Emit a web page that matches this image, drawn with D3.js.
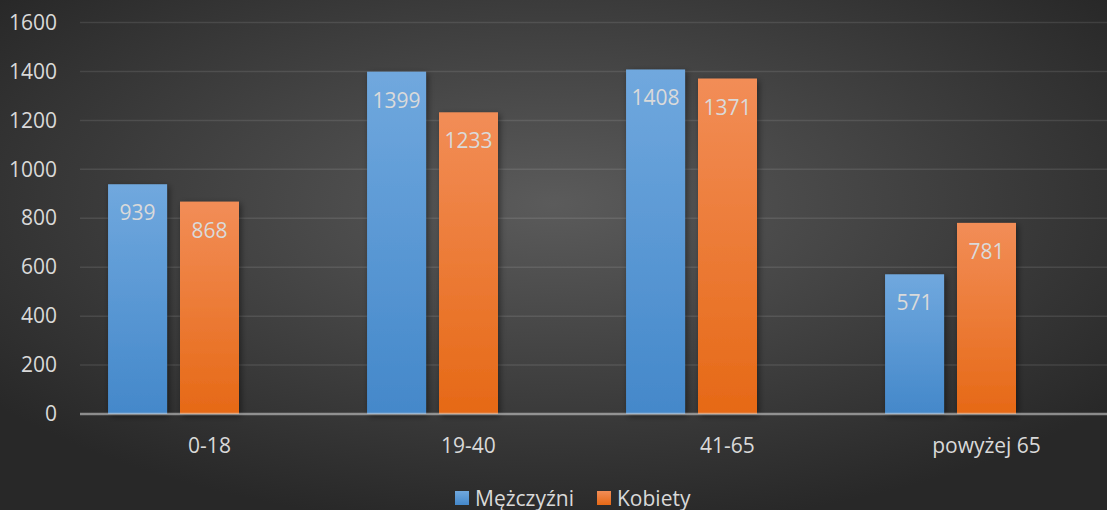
<!DOCTYPE html>
<html lang="pl">
<head>
  <meta charset="UTF-8">
  <title>Mężczyźni i kobiety wg wieku</title>
  <script src="https://d3js.org/d3.v7.min.js"></script>
  <style>
    html, body {
      margin: 0;
      padding: 0;
      background: #333;
    }
    svg {
      display: block;
      font-family: "Open Sans", Lato, sans-serif;
    }
  </style>
</head>
<body>
  <svg id="chart"></svg>
  <script>
    // data
    const categories = ["0-18", "19-40", "41-65", "powyżej 65"];
    const seriesNames = ["Mężczyźni", "Kobiety"];
    const men = [939, 1399, 1408, 571];
    const women = [868, 1233, 1371, 781];
    const yTicks = [0, 200, 400, 600, 800, 1000, 1200, 1400, 1600];

    const width = 1107, height = 510;
    const plot = { left: 80, right: 1116, top: 22.5, bottom: 414 };
    const fontSize = "21px";

    const svg = d3.select("#chart")
      .attr("width", width)
      .attr("height", height);

    const defs = svg.append("defs");

    const bg = defs.append("radialGradient")
      .attr("id", "bg")
      .attr("cx", "50%").attr("cy", "40%").attr("r", "64%");
    bg.append("stop").attr("offset", "0%").attr("stop-color", "#5b5b5b");
    bg.append("stop").attr("offset", "100%").attr("stop-color", "#282828");

    const fills = [
      { id: "gBlue", top: "#70a8de", bottom: "#4488ca" },
      { id: "gOrange", top: "#f28d57", bottom: "#e66916" }
    ];
    fills.forEach(f => {
      const g = defs.append("linearGradient")
        .attr("id", f.id)
        .attr("x1", 0).attr("y1", 0).attr("x2", 0).attr("y2", 1);
      g.append("stop").attr("offset", "0%").attr("stop-color", f.top);
      g.append("stop").attr("offset", "100%").attr("stop-color", f.bottom);
    });

    const shadow = defs.append("filter")
      .attr("id", "shadow")
      .attr("x", "-20%").attr("y", "-10%")
      .attr("width", "150%").attr("height", "130%");
    shadow.append("feDropShadow")
      .attr("dx", 2).attr("dy", 2)
      .attr("stdDeviation", 3)
      .attr("flood-color", "#000")
      .attr("flood-opacity", 0.45);

    svg.append("rect")
      .attr("width", width)
      .attr("height", height)
      .attr("fill", "url(#bg)");

    const x0 = d3.scaleBand()
      .domain(categories)
      .range([plot.left, plot.right]);

    // the source sheet has an empty third series, so each group keeps a blank slot on the right
    const x1 = d3.scaleBand()
      .domain([...seriesNames, "(pusta)"])
      .range([0, x0.bandwidth()])
      .paddingInner(0.18)
      .paddingOuter(0.39);

    const y = d3.scaleLinear()
      .domain([0, 1600])
      .range([plot.bottom, plot.top]);

    // gridlines
    svg.append("g")
      .selectAll("line")
      .data(yTicks.filter(d => d > 0))
      .join("line")
      .attr("x1", plot.left)
      .attr("x2", width)
      .attr("y1", d => y(d))
      .attr("y2", d => y(d))
      .attr("stroke", "rgba(255,255,255,0.1)")
      .attr("stroke-width", 1.5);

    // y axis labels
    const yAxis = svg.append("g")
      .attr("transform", "translate(57,0)")
      .call(d3.axisLeft(y).tickValues(yTicks).tickFormat(d3.format("d")).tickSize(0).tickPadding(0));
    yAxis.select(".domain").remove();
    yAxis.selectAll("text")
      .attr("fill", "#d9d9d9")
      .style("font-size", fontSize)
      .style("font-family", "'Open Sans', Lato, sans-serif");

    const rows = categories.map((c, i) => ({ cat: c, values: [men[i], women[i]] }));

    const groups = svg.append("g")
      .selectAll("g")
      .data(rows)
      .join("g")
      .attr("transform", d => `translate(${x0(d.cat)},0)`);

    groups.selectAll("rect")
      .data(d => d.values.map((v, j) => ({ series: seriesNames[j], value: v, j })))
      .join("rect")
      .attr("x", d => x1(d.series))
      .attr("y", d => y(d.value))
      .attr("width", x1.bandwidth())
      .attr("height", d => y(0) - y(d.value))
      .attr("fill", d => `url(#${fills[d.j].id})`)
      .attr("filter", "url(#shadow)");

    groups.selectAll("text")
      .data(d => d.values.map((v, j) => ({ series: seriesNames[j], value: v })))
      .join("text")
      .attr("x", d => x1(d.series) + x1.bandwidth() / 2)
      .attr("y", d => y(d.value) + 28)
      .attr("text-anchor", "middle")
      .attr("dominant-baseline", "central")
      .attr("fill", "#dadada")
      .style("font-size", fontSize)
      .text(d => d.value);

    // category axis line
    svg.append("line")
      .attr("x1", plot.left)
      .attr("x2", width)
      .attr("y1", y(0))
      .attr("y2", y(0))
      .attr("stroke", "rgba(220,220,220,0.55)")
      .attr("stroke-width", 2.5);

    // category labels
    svg.append("g")
      .selectAll("text")
      .data(categories)
      .join("text")
      .attr("x", d => x0(d) + x0.bandwidth() / 2)
      .attr("y", 445)
      .attr("text-anchor", "middle")
      .attr("dominant-baseline", "central")
      .attr("fill", "#d9d9d9")
      .style("font-size", fontSize)
      .text(d => d);

    // legend
    const legendItems = [
      { name: seriesNames[0], fill: "url(#gBlue)", x: 455 },
      { name: seriesNames[1], fill: "url(#gOrange)", x: 597 }
    ];
    const legend = svg.append("g")
      .selectAll("g")
      .data(legendItems)
      .join("g")
      .attr("transform", d => `translate(${d.x},491)`);
    legend.append("rect")
      .attr("width", 14)
      .attr("height", 14)
      .attr("fill", d => d.fill);
    legend.append("text")
      .attr("x", 20)
      .attr("y", 7)
      .attr("dominant-baseline", "central")
      .attr("fill", "#d9d9d9")
      .style("font-size", fontSize)
      .text(d => d.name);
  </script>
</body>
</html>
